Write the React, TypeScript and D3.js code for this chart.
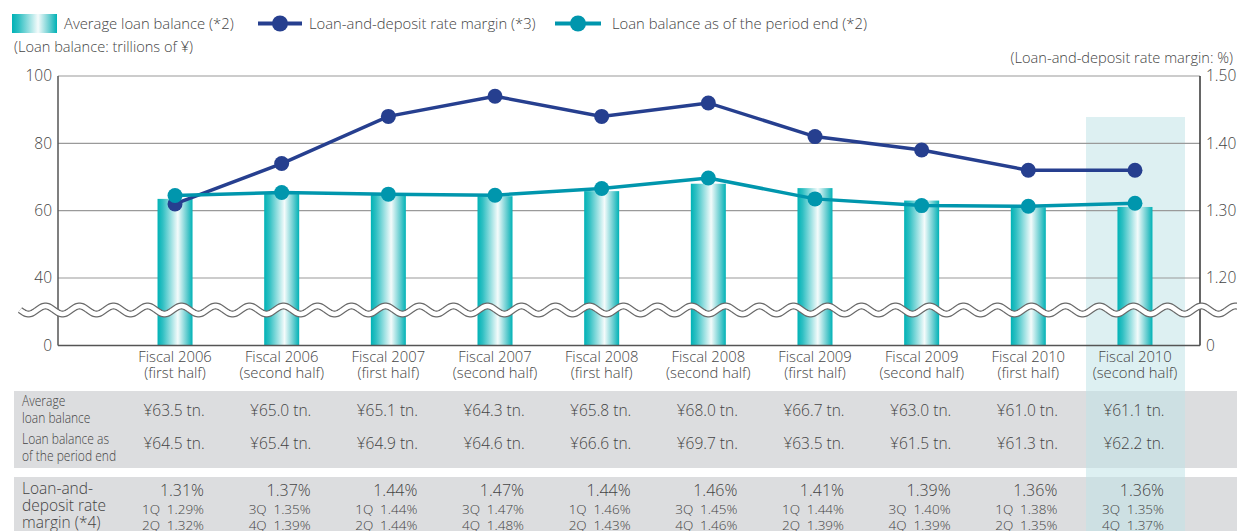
import * as d3 from 'd3';

const periodYears = ['Fiscal 2006', 'Fiscal 2006', 'Fiscal 2007', 'Fiscal 2007', 'Fiscal 2008', 'Fiscal 2008', 'Fiscal 2009', 'Fiscal 2009', 'Fiscal 2010', 'Fiscal 2010'];
const periodHalves = ['(first half)', '(second half)', '(first half)', '(second half)', '(first half)', '(second half)', '(first half)', '(second half)', '(first half)', '(second half)'];

// trillions of yen
const avgLoanBalance = [63.5, 65.0, 65.1, 64.3, 65.8, 68.0, 66.7, 63.0, 61.0, 61.1];
const periodEndBalance = [64.5, 65.4, 64.9, 64.6, 66.6, 69.7, 63.5, 61.5, 61.3, 62.2];
// %
const rateMargin = [1.31, 1.37, 1.44, 1.47, 1.44, 1.46, 1.41, 1.39, 1.36, 1.36];
const quarterNames = [['1Q', '2Q'], ['3Q', '4Q'], ['1Q', '2Q'], ['3Q', '4Q'], ['1Q', '2Q'], ['3Q', '4Q'], ['1Q', '2Q'], ['3Q', '4Q'], ['1Q', '2Q'], ['3Q', '4Q']];
const quarterMargins = [[1.29, 1.32], [1.35, 1.39], [1.44, 1.44], [1.47, 1.48], [1.46, 1.43], [1.45, 1.46], [1.44, 1.39], [1.40, 1.39], [1.38, 1.35], [1.35, 1.37]];

const leftTicks = [0, 40, 60, 80, 100];
const rightTicks = [0, 1.2, 1.3, 1.4, 1.5];

const W = 1237;
const H = 531;
const plotL = 58;
const plotR = 1200;
const plotT = 76;
const plotB = 345.5;
const breakY = 310;

const FONT = "'Open Sans', 'Noto Sans', sans-serif";
const TXT = '#444';
const NAVY = '#263f8f';
const TEAL = '#0096ad';

const idx = avgLoanBalance.map((_, i) => i);

const App = (): React.ReactElement => {
  const x = d3.scaleBand<number>().domain(idx).range([121.7, 1188.3]);
  const cx = (i: number) => (x(i) ?? 0) + x.bandwidth() / 2;
  // broken axis: 0..40 squeezed below the wave
  const yLeft = d3.scaleLinear().domain([0, 40, 100]).range([plotB, 278, plotT]);
  const yRight = d3.scaleLinear().domain([0, 1.2, 1.5]).range([plotB, 278, plotT]);
  const barW = 35;

  const marginLine = d3
    .line<number>()
    .x((_, i) => cx(i))
    .y((d) => yRight(d));
  const endLine = d3
    .line<number>()
    .x((_, i) => cx(i))
    .y((d) => yLeft(d));

  // wavy break marker
  const wavePts: [number, number][] = [];
  for (let px = 20; px <= 1240; px += 1) {
    wavePts.push([px, breakY + 4 * Math.sin(((px - 20) / 34) * Math.PI * 2)]);
  }
  const wavePath = d3.line()(wavePts) ?? '';

  const hlX0 = 1086;
  const hlX1 = 1185;

  return (
    <svg width={W} height={H} style={{ position: 'absolute', left: 0, top: 0, display: 'block' }} fontFamily={FONT} fontWeight={350}>
      <defs>
        <linearGradient id="barGrad" x1="0" x2="1" y1="0" y2="0">
          <stop offset="0%" stopColor="#00b2b6" />
          <stop offset="15%" stopColor="#30c0c3" />
          <stop offset="58%" stopColor="#f4fbfb" />
          <stop offset="85%" stopColor="#5ccacd" />
          <stop offset="100%" stopColor="#00b2b6" />
        </linearGradient>
      </defs>
      <rect width={W} height={H} fill="#fff" />

      {/* table backgrounds */}
      <rect x={14} y={391} width={W - 14} height={77} fill="#dcdddf" />
      <rect x={14} y={477} width={W - 14} height={H - 477} fill="#dcdddf" />

      {/* highlight of the latest period */}
      <rect x={hlX0} y={117} width={hlX1 - hlX0} height={H - 117} fill="rgb(192,227,231)" fillOpacity={0.54} />

      {/* grid */}
      {leftTicks.filter((t) => t > 0).map((t) => (
        <line key={t} x1={plotL} x2={plotR} y1={yLeft(t)} y2={yLeft(t)} stroke="#9a9a9a" strokeWidth={1.2} />
      ))}

      {/* bars */}
      {avgLoanBalance.map((v, i) => (
        <rect key={i} x={cx(i) - barW / 2} y={yLeft(v)} width={barW} height={plotB - yLeft(v)} fill="url(#barGrad)" />
      ))}

      {/* axes */}
      <line x1={plotL} x2={plotL} y1={plotT} y2={plotB} stroke="#555" strokeWidth={1.5} />
      <line x1={plotR} x2={plotR} y1={plotT} y2={plotB} stroke="#333" strokeWidth={1.5} />
      <line x1={plotL} x2={plotR} y1={plotB} y2={plotB} stroke="#555" strokeWidth={1.5} />

      {/* break */}
      <path d={wavePath} fill="none" stroke="#6a6a6a" strokeWidth={7} />
      <path d={wavePath} fill="none" stroke="#fff" strokeWidth={4.6} />

      {/* lines */}
      <path d={marginLine(rateMargin) ?? ''} fill="none" stroke={NAVY} strokeWidth={3.5} />
      {rateMargin.map((v, i) => (
        <circle key={i} cx={cx(i)} cy={yRight(v)} r={7.5} fill={NAVY} />
      ))}
      <path d={endLine(periodEndBalance) ?? ''} fill="none" stroke={TEAL} strokeWidth={3.5} />
      {periodEndBalance.map((v, i) => (
        <circle key={i} cx={cx(i)} cy={yLeft(v)} r={7.5} fill={TEAL} />
      ))}

      {/* tick labels */}
      {leftTicks.map((t) => (
        <text key={t} x={52} y={yLeft(t)} dy="0.35em" textAnchor="end" fontSize={15.5} fill={TXT}>
          {t}
        </text>
      ))}
      {rightTicks.map((t) => (
        <text key={t} x={1206} y={yRight(t)} dy="0.35em" textAnchor="start" fontSize={15.5} fill={TXT}>
          {t === 0 ? '0' : t.toFixed(2)}
        </text>
      ))}

      {/* category labels */}
      {idx.map((i) => (
        <text key={i} x={cx(i)} textAnchor="middle" fontSize={14.8} fill={TXT}>
          <tspan x={cx(i)} y={362}>{periodYears[i]}</tspan>
          <tspan x={cx(i)} y={377.5}>{periodHalves[i]}</tspan>
        </text>
      ))}

      {/* axis titles */}
      <text x={14} y={52} fontSize={14.6} fill={TXT}>(Loan balance: trillions of ¥)</text>
      <text x={1233} y={63} fontSize={14.6} fill={TXT} textAnchor="end">(Loan-and-deposit rate margin: %)</text>

      {/* legend */}
      <rect x={12} y={14} width={45} height={19} fill="url(#barGrad)" />
      <text x={64} y={29} fontSize={14.8} fill={TXT}>Average loan balance (*2)</text>
      <line x1={258} x2={302} y1={23.5} y2={23.5} stroke={NAVY} strokeWidth={4} />
      <circle cx={280} cy={23.5} r={8} fill={NAVY} />
      <text x={309} y={29} fontSize={14.8} fill={TXT}>Loan-and-deposit rate margin (*3)</text>
      <line x1={555} x2={601} y1={23.5} y2={23.5} stroke={TEAL} strokeWidth={4} />
      <circle cx={578} cy={23.5} r={8} fill={TEAL} />
      <text x={612} y={29} fontSize={14.8} fill={TXT}>Loan balance as of the period end (*2)</text>

      {/* table row labels (condensed) */}
      <g transform="translate(22,0) scale(0.86,1)">
        <text fontSize={14} fill={TXT}>
          <tspan x={0} y={406}>Average</tspan>
          <tspan x={0} y={423}>loan balance</tspan>
          <tspan x={0} y={444}>Loan balance as</tspan>
          <tspan x={0} y={461}>of the period end</tspan>
        </text>
      </g>
      <text fontSize={15.5} fill={TXT}>
        <tspan x={22} y={494}>Loan-and-</tspan>
        <tspan x={22} y={511}>deposit rate</tspan>
        <tspan x={22} y={528}>margin (*4)</tspan>
      </text>

      {/* table values */}
      {idx.map((i) => (
        <g key={i} fill={TXT}>
          <text x={cx(i) - 1} y={416} textAnchor="middle" fontSize={15.5}>
            ¥{avgLoanBalance[i].toFixed(1)} tn.
          </text>
          <text x={cx(i) - 1} y={449} textAnchor="middle" fontSize={15.5}>
            ¥{periodEndBalance[i].toFixed(1)} tn.
          </text>
          <text x={cx(i) + 29} y={496} textAnchor="end" fontSize={16}>
            {rateMargin[i].toFixed(2)}%
          </text>
          {quarterNames[i].map((qn, k) => (
            <text key={k} x={cx(i) + 29} y={514 + k * 16} textAnchor="end" fontSize={13.5}>
              {qn}
              {'\u2002'}
              {quarterMargins[i][k].toFixed(2)}%
            </text>
          ))}
        </g>
      ))}
    </svg>
  );
};

export default App;
